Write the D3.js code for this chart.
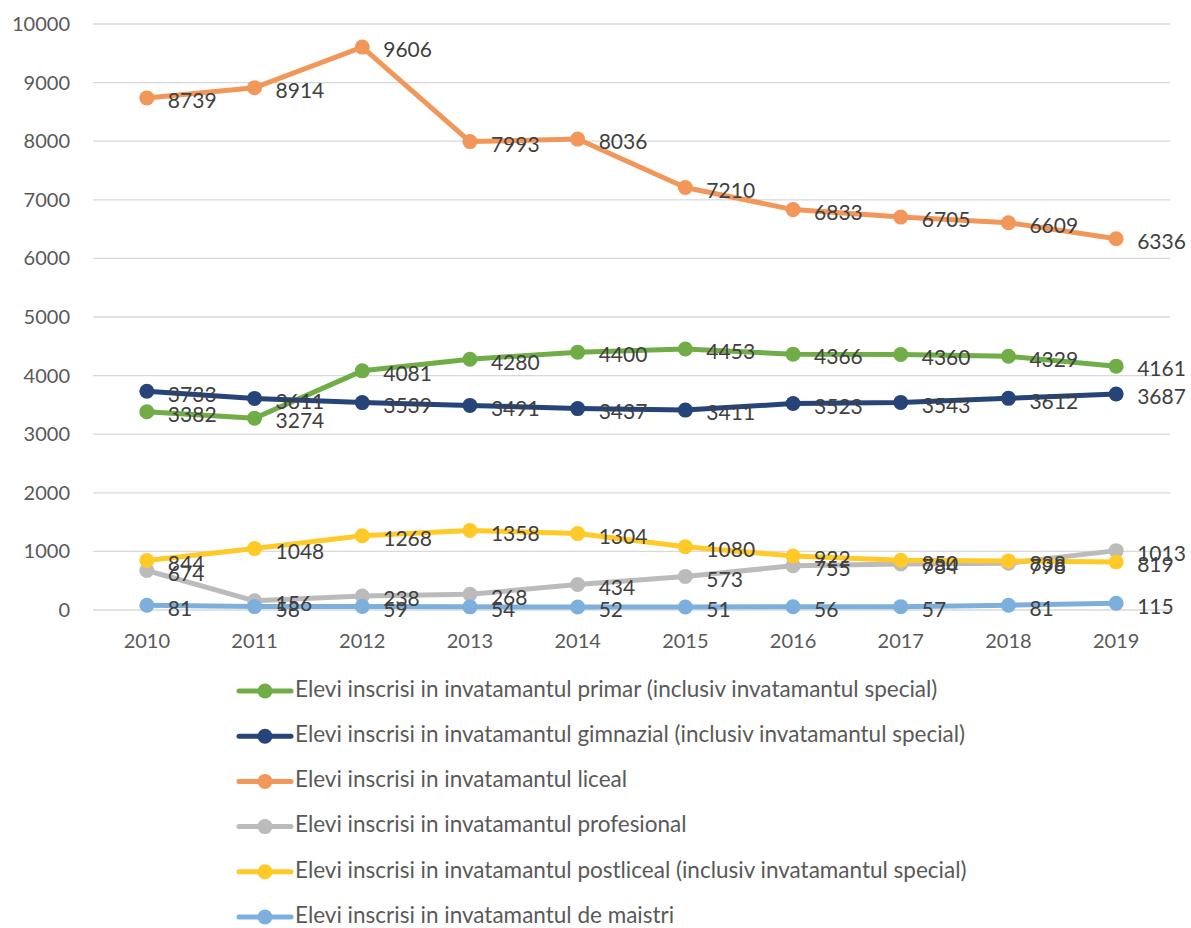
<!DOCTYPE html>
<html>
<head>
<meta charset="utf-8">
<script src="https://cdn.jsdelivr.net/npm/d3@7"></script>
<style>
  body { margin: 0; background: #fff; }
  svg { font-family: Lato, "Open Sans", sans-serif; }
</style>
</head>
<body>
<svg id="chart" width="1191" height="928"></svg>
<script>
const years = ['2010', '2011', '2012', '2013', '2014', '2015', '2016', '2017', '2018', '2019']

const primar      = [3382, 3274, 4081, 4280, 4400, 4453, 4366, 4360, 4329, 4161]
const gimnazial   = [3733, 3611, 3539, 3491, 3437, 3411, 3523, 3543, 3612, 3687]
const liceal      = [8739, 8914, 9606, 7993, 8036, 7210, 6833, 6705, 6609, 6336]
const profesional = [674, 156, 238, 268, 434, 573, 755, 784, 798, 1013]
const postliceal  = [844, 1048, 1268, 1358, 1304, 1080, 922, 850, 838, 819]
const maistri     = [81, 58, 59, 54, 52, 51, 56, 57, 81, 115]

const seriesNames = [
  'Elevi inscrisi in invatamantul primar (inclusiv invatamantul special)',
  'Elevi inscrisi in invatamantul gimnazial (inclusiv invatamantul special)',
  'Elevi inscrisi in invatamantul liceal',
  'Elevi inscrisi in invatamantul profesional',
  'Elevi inscrisi in invatamantul postliceal (inclusiv invatamantul special)',
  'Elevi inscrisi in invatamantul de maistri'
]
const seriesColors = ['#70AD47', '#264478', '#F1975A', '#BBBBBB', '#FFCA28', '#7DAFDD']
const yTicks = [0, 1000, 2000, 3000, 4000, 5000, 6000, 7000, 8000, 9000, 10000]

const series = [primar, gimnazial, liceal, profesional, postliceal, maistri]
  .map((values, i) => ({ name: seriesNames[i], color: seriesColors[i], values }))

const svg = d3.select('#chart')
const plot = { left: 93, right: 1170, top: 24, bottom: 610 }

const x = d3.scaleBand()
  .domain(years)
  .range([plot.left, plot.right])

const y = d3.scaleLinear()
  .domain([0, 10000])
  .range([plot.bottom, plot.top])

// horizontal gridlines
svg.append('g')
  .selectAll('line')
  .data(yTicks)
  .join('line')
  .attr('x1', plot.left)
  .attr('x2', plot.right)
  .attr('y1', d => y(d))
  .attr('y2', d => y(d))
  .attr('stroke', '#d9d9d9')
  .attr('stroke-width', 1.3)

// y axis labels
const yAxis = d3.axisLeft(y).tickValues(yTicks).tickFormat(d3.format('d')).tickSize(0).tickPadding(23)
svg.append('g')
  .attr('transform', `translate(${plot.left},0)`)
  .call(yAxis)
  .call(g => g.select('.domain').remove())
  .selectAll('text')
  .attr('font-size', 20)
  .attr('font-family', 'Lato, sans-serif')
  .attr('fill', '#595959')

// x axis labels
const xAxis = d3.axisBottom(x).tickSize(0).tickPadding(24)
svg.append('g')
  .attr('transform', `translate(0,${plot.bottom})`)
  .call(xAxis)
  .call(g => g.select('.domain').remove())
  .selectAll('text')
  .attr('font-size', 20)
  .attr('font-family', 'Lato, sans-serif')
  .attr('fill', '#595959')

const cx = i => x(years[i]) + x.bandwidth() / 2

const line = d3.line()
  .x((d, i) => cx(i))
  .y(d => y(d))

const lines = svg.append('g')
series.forEach(s => {
  const g = lines.append('g')
  g.append('path')
    .attr('d', line(s.values))
    .attr('fill', 'none')
    .attr('stroke', s.color)
    .attr('stroke-width', 5)
    .attr('stroke-linejoin', 'round')
  g.selectAll('circle')
    .data(s.values)
    .join('circle')
    .attr('cx', (d, i) => cx(i))
    .attr('cy', d => y(d))
    .attr('r', 7.5)
    .attr('fill', s.color)
})

// data labels, to the right of each point (overlaps kept as in the source)
const labels = svg.append('g')
series.forEach(s => {
  labels.selectAll(null)
    .data(s.values)
    .join('text')
    .attr('x', (d, i) => cx(i) + 21)
    .attr('y', d => y(d) + 5)
    .attr('dominant-baseline', 'middle')
    .attr('font-size', 21)
    .attr('fill', '#404040')
    .text(d => d)
})

// legend
const legend = svg.append('g')
  .attr('transform', 'translate(237,691)')
series.forEach((s, i) => {
  const g = legend.append('g').attr('transform', `translate(0,${i * 45.2})`)
  g.append('line')
    .attr('x1', 2).attr('x2', 54)
    .attr('stroke', s.color)
    .attr('stroke-width', 5)
    .attr('stroke-linecap', 'round')
  g.append('circle')
    .attr('cx', 28)
    .attr('r', 7.5)
    .attr('fill', s.color)
  g.append('text')
    .attr('x', 58)
    .attr('dominant-baseline', 'middle')
    .attr('font-size', 22.5)
    .attr('fill', '#595959')
    .text(s.name)
})
</script>
</body>
</html>
